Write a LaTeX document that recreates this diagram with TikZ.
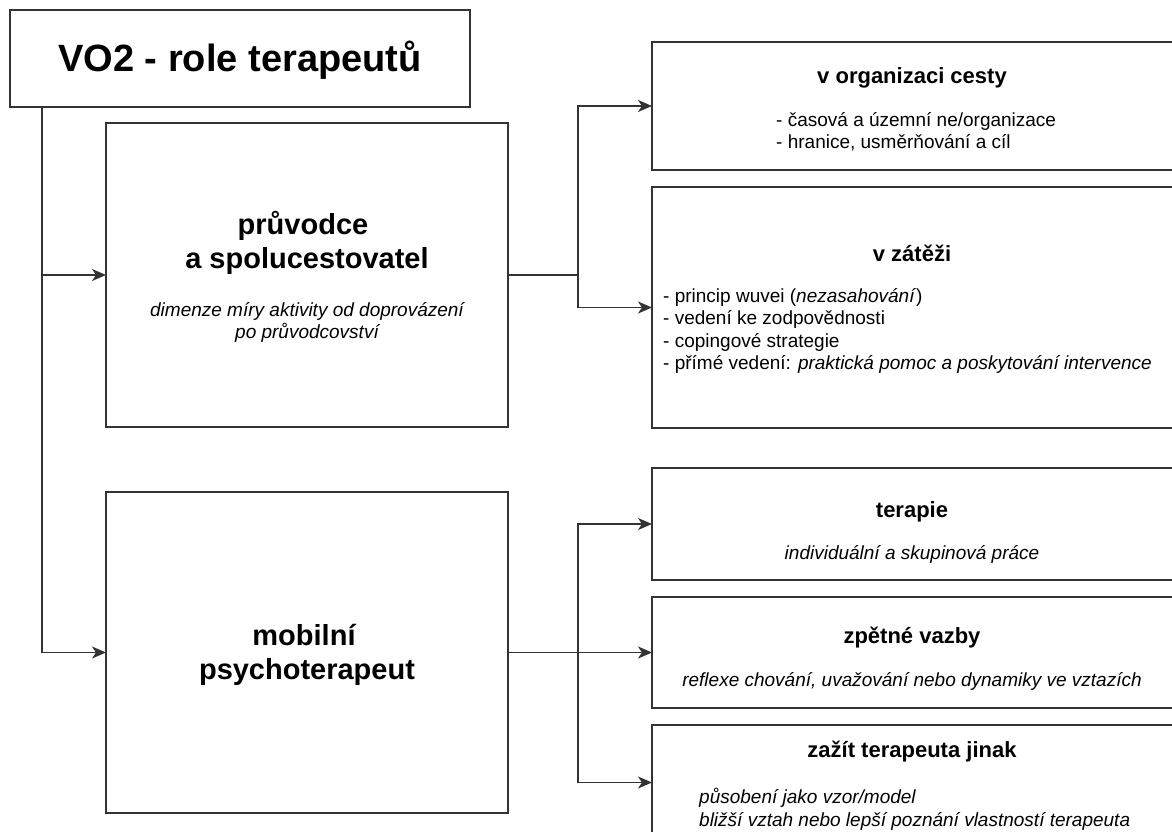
\documentclass[tikz,border=0pt]{standalone}
\usepackage{fontspec}
\setmainfont{Liberation Sans}
\usetikzlibrary{arrows.meta}
\definecolor{ln}{HTML}{333333}
\begin{document}
\begin{tikzpicture}[x=1pt,y=-1pt,
  box/.style={draw=ln,line width=1.5pt,fill=white,rectangle,inner sep=0pt,outer sep=0pt,anchor=north west},
  conn/.style={draw=ln,line width=1.5pt},
  arr/.style={conn,-{Stealth[length=14pt,width=12pt,inset=4pt]}},
  txt/.style={inner sep=0pt,anchor=base,text=black},
  txtl/.style={inner sep=0pt,anchor=base west,text=black},
  ttlf/.style={font=\bfseries\fontsize{38}{44}\selectfont},
  bigf/.style={font=\bfseries\fontsize{29}{34}\selectfont},
  headf/.style={font=\bfseries\fontsize{22}{26}\selectfont},
  bodyf/.style={font=\fontsize{19}{23}\selectfont},
  itf/.style={font=\itshape\fontsize{19}{23}\selectfont},
]
\useasboundingbox (0,0) rectangle (1172,832);
\clip (0,0) rectangle (1172,832);
\fill[white] (0,0) rectangle (1172,832);

% boxes
\node[box,minimum width=460pt,minimum height=97pt] (title) at (10,10) {};
\node[box,minimum width=402pt,minimum height=304pt] (pruv) at (106,123) {};
\node[box,minimum width=402pt,minimum height=321pt] (mob) at (106,492) {};
\node[box,minimum width=528pt,minimum height=128pt] (org) at (652,42) {};
\node[box,minimum width=528pt,minimum height=241pt] (zat) at (652,187) {};
\node[box,minimum width=528pt,minimum height=112pt] (ter) at (652,468) {};
\node[box,minimum width=528pt,minimum height=111pt] (zpet) at (652,597) {};
\node[box,minimum width=528pt,minimum height=115pt] (zaz) at (652,725) {};

% connectors
\coordinate (tdown) at (42,107);
\coordinate (b1) at (578,275);
\coordinate (b2) at (578,652.5);
\draw[arr] (tdown) |- (pruv.west);
\draw[arr] (tdown) |- (mob.west);
\draw[conn] (pruv.east) -- (b1);
\draw[arr] (b1) |- (org.west);
\draw[arr] (b1) |- (zat.west);
\draw[conn] (mob.east) -- (b2);
\draw[arr] (b2) |- (ter.west);
\draw[arr] (b2) |- (zpet.west);
\draw[arr] (b2) |- (zaz.west);

% texts
\node[txt,ttlf] (t0) at (240,72) {VO2 - role terapeutů};

\node[txt,bigf] (p1) at (303,234) {průvodce};
\node[txt,bigf] (p2) at (307,268) {a spolucestovatel};
\node[txt,itf] (p3) at (307,316) {dimenze míry aktivity od doprovázení};
\node[txt,itf] (p4) at (307,338) {po průvodcovství};

\node[txt,bigf] (m1) at (304,645) {mobilní};
\node[txt,bigf] (m2) at (307,679) {psychoterapeut};

\node[txt,headf] (o1) at (912,84) {v organizaci cesty};
\node[txtl,bodyf] (o2) at (776,127) {- časová a územní ne/organizace};
\node[txtl,bodyf] (o3) at (776,149) {- hranice, usměrňování a cíl};

\node[txt,headf] (z1) at (912,261) {v zátěži};
\node[txtl,bodyf] (z2) at (663,302) {- princip wuvei (\textit{nezasahování})};
\node[txtl,bodyf] (z3) at (663,324) {- vedení ke zodpovědnosti};
\node[txtl,bodyf] (z4) at (663,347) {- copingové strategie};
\node[txtl,bodyf] (z5) at (663,369) {- přímé vedení: \textit{praktická pomoc a poskytování intervence}};

\node[txt,headf] (r1) at (912,517) {terapie};
\node[txt,itf] (r2) at (912,559) {individuální a skupinová práce};

\node[txt,headf] (s1) at (912,643) {zpětné vazby};
\node[txt,itf] (s2) at (912,686) {reflexe chování, uvažování nebo dynamiky ve vztazích};

\node[txt,headf] (j1) at (912,757) {zažít terapeuta jinak};
\node[txtl,itf] (j2) at (699,803) {působení jako vzor/model};
\node[txtl,itf] (j3) at (699,826) {bližší vztah nebo lepší poznání vlastností terapeuta};
\end{tikzpicture}
\end{document}
